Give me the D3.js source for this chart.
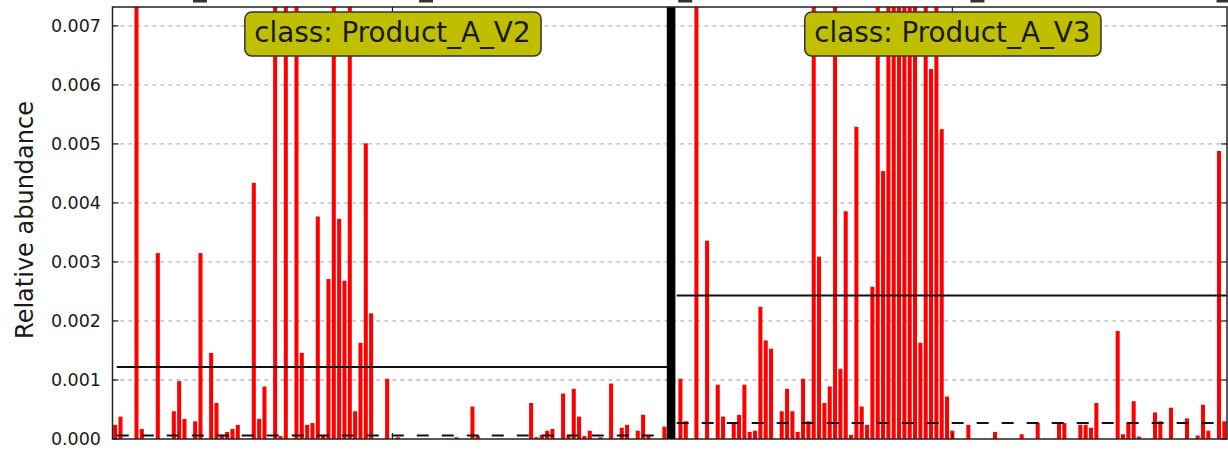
<!DOCTYPE html>
<html>
<head>
<meta charset="utf-8">
<script src="https://cdn.jsdelivr.net/npm/d3@7"></script>
<style>
    body { margin: 0; background: #fff; }
    svg { display: block; font-family: "DejaVu Sans", sans-serif; }
</style>
</head>
<body>
<div id="chart"></div>
<script>
// one bar per sample, relative abundance
const classNames = ["Product_A_V2", "Product_A_V3"]
const abundanceV2 = [
    0.00024, 0.00038, 0, 0, 0.0172, 0.00017, 0, 0, 0.00315, 0,
    0, 0.00047, 0.00098, 0.00034, 0, 0.0003, 0.00315, 0, 0.00146, 0.00061,
    0.00007, 0.00012, 0.00017, 0.00024, 0, 0, 0.00434, 0.00034, 0.00089, 0,
    0.0118, 0.00005, 0.0135, 0, 0.0101, 0.00146, 0.00024, 0.00027, 0.00377, 0.00005,
    0.00271, 0.0143, 0.00373, 0.00268, 0.0112, 0.00047, 0.00163, 0.00501, 0.00213, 0,
    0, 0.00102, 0, 0.00003, 0, 0, 0, 0, 0, 0,
    0, 0, 0, 0, 0.00003, 0, 0, 0.00055, 0.00005, 0,
    0, 0, 0, 0, 0, 0, 0, 0, 0.00061, 0.00003,
    0.00007, 0.00014, 0.00017, 0, 0.00077, 0.00005, 0.00085, 0.00038, 0.00005, 0.00014,
    0, 0.00003, 0, 0.00094, 0, 0.00019, 0.00024, 0, 0.00014, 0.00041,
    0.00007, 0, 0, 0.00021
]
const abundanceV3 = [
    0, 0.00102, 0.0003, 0, 0.0148, 0, 0.00336, 0, 0.00092, 0.00038,
    0, 0.00027, 0.00041, 0.00092, 0.00012, 0.00014, 0.00224, 0.00167, 0.00153, 0,
    0.00047, 0.00085, 0.00047, 0.00012, 0.00102, 0.0003, 0.0186, 0.00309, 0.00061, 0.00089,
    0.0121, 0.00119, 0.00386, 0.00007, 0.00529, 0.00055, 0.00024, 0.00258, 0.0139, 0.00454,
    0.0213, 0.0174, 0.0162, 0.0195, 0.0117, 0.0158, 0.00163, 0.0131, 0.00627, 0.0119,
    0.00525, 0.00072, 0.00014, 0, 0, 0.00024, 0, 0, 0, 0,
    0.00012, 0, 0, 0, 0, 0.00008, 0, 0, 0.00027, 0,
    0, 0, 0.00027, 0.00027, 0, 0, 0.00024, 0.00024, 0.00019, 0.00061,
    0, 0, 0, 0.00183, 0.00008, 0.00027, 0.00064, 0.00004, 0, 0,
    0.00045, 0.0003, 0, 0.00053, 0, 0, 0.00035, 0, 0.00006, 0.00058,
    0.00014, 0, 0.00488, 0.0003
]
const yTicks = [0, 0.001, 0.002, 0.003, 0.004, 0.005, 0.006, 0.007]
const yMax = 0.00732
// bits of the (cropped) labels sticking in at the top edge, in bar slots
const cutLabelSlots = [16.4, 58.8, 107.4, 162.2, 208.35]

var width = 1228
var height = 451
var margin = { top: 7, right: 1, bottom: 12, left: 112.5 }
var innerW = width - margin.left - margin.right
var innerH = height - margin.top - margin.bottom

var classes = [
    { name: classNames[0], values: abundanceV2, offset: 0 },
    { name: classNames[1], values: abundanceV3, offset: abundanceV2.length + 1 }
]
var totalSlots = abundanceV2.length + 1 + abundanceV3.length

var svg = d3.select("#chart")
    .append("svg")
    .attr("width", width)
    .attr("height", height)

var g = svg.append("g")
    .attr("transform", "translate(" + margin.left + "," + margin.top + ")")

var x = d3.scaleLinear().domain([0, totalSlots]).range([0, innerW])
var y = d3.scaleLinear().domain([0, yMax]).range([innerH, 0])
var pitch = x(1) - x(0)

g.append("clipPath").attr("id", "plotClip")
    .append("rect").attr("width", innerW).attr("height", innerH)

// grid
g.selectAll(".grid")
    .data(yTicks.filter(d => d > 0))
    .enter().append("line")
    .attr("x1", 0).attr("x2", innerW)
    .attr("y1", d => y(d)).attr("y2", d => y(d))
    .style("stroke", "#b4b4b4")
    .style("stroke-width", "1.3px")
    .style("stroke-dasharray", "3.5,4.5")

var plot = g.append("g").attr("clip-path", "url(#plotClip)")

classes.forEach(function (c) {
    var bars = c.values.map((v, i) => ({ slot: c.offset + i, v: v })).filter(d => d.v > 0)
    plot.selectAll(null)
        .data(bars)
        .enter().append("rect")
        .attr("x", d => x(d.slot) + 0.65)
        .attr("width", pitch - 1.3)
        .attr("y", d => y(d.v))
        .attr("height", d => y(0) - y(d.v))
        .style("fill", "#ff0000")

    var x1 = x(c.offset + 0.8)
    var x2 = x(c.offset + c.values.length + 0.3)
    // mean
    plot.append("line")
        .attr("x1", x1).attr("x2", x2)
        .attr("y1", y(d3.mean(c.values))).attr("y2", y(d3.mean(c.values)))
        .style("stroke", "#111")
        .style("stroke-width", "2px")
    // median
    plot.append("line")
        .attr("x1", x1).attr("x2", x2)
        .attr("y1", y(d3.median(c.values))).attr("y2", y(d3.median(c.values)))
        .style("stroke", "#111")
        .style("stroke-width", "2px")
        .style("stroke-dasharray", "12,13")
})

// class separator
g.append("line")
    .attr("x1", x(abundanceV2.length + 0.75)).attr("x2", x(abundanceV2.length + 0.75))
    .attr("y1", 0).attr("y2", innerH)
    .style("stroke", "#000")
    .style("stroke-width", "8.6px")

// frame
g.append("rect")
    .attr("width", innerW).attr("height", innerH)
    .style("fill", "none")
    .style("stroke", "#222")
    .style("stroke-width", "1.5px")

// inward ticks on both sides
yTicks.forEach(function (t) {
    g.append("line").attr("x1", 0).attr("x2", 6).attr("y1", y(t)).attr("y2", y(t))
        .style("stroke", "#222").style("stroke-width", "1.2px")
    g.append("line").attr("x1", innerW - 6).attr("x2", innerW).attr("y1", y(t)).attr("y2", y(t))
        .style("stroke", "#222").style("stroke-width", "1.2px")
})
classes.forEach(function (c) {
    var cx = x(c.offset + c.values.length / 2 + 0.5)
    g.append("line").attr("x1", cx).attr("x2", cx).attr("y1", 0).attr("y2", 6)
        .style("stroke", "#222").style("stroke-width", "1.2px")
    g.append("line").attr("x1", cx).attr("x2", cx).attr("y1", innerH - 6).attr("y2", innerH)
        .style("stroke", "#222").style("stroke-width", "1.2px")
})

g.selectAll(".ytick")
    .data(yTicks)
    .enter().append("text")
    .attr("x", -11.5)
    .attr("y", d => y(d))
    .attr("dy", "0.36em")
    .style("text-anchor", "end")
    .style("font-size", "17.5px")
    .style("fill", "#1a1a1a")
    .text(d => d3.format(".3f")(d))

svg.append("text")
    .attr("transform", "translate(33,220) rotate(-90)")
    .style("text-anchor", "middle")
    .style("font-size", "24px")
    .style("fill", "#1a1a1a")
    .text("Relative abundance")

// class labels
classes.forEach(function (c) {
    var cx = margin.left + x(c.offset + c.values.length / 2 + 0.5)
    var lab = svg.append("g")
    var txt = lab.append("text")
        .attr("x", cx)
        .attr("y", 41.7)
        .style("text-anchor", "middle")
        .style("font-size", "27.8px")
        .style("fill", "#1a1a1a")
        .text("class: " + c.name)
    var bb = txt.node().getBBox()
    lab.insert("rect", "text")
        .attr("x", bb.x - 9.5)
        .attr("y", 12)
        .attr("width", bb.width + 20)
        .attr("height", 44)
        .attr("rx", 7)
        .style("fill", "#bfbf00")
        .style("stroke", "#333")
        .style("stroke-width", "1.5px")
})

// cropped label pieces at the top
svg.selectAll(".cut")
    .data(cutLabelSlots)
    .enter().append("rect")
    .attr("x", d => margin.left + x(d) - 7)
    .attr("y", 0)
    .attr("width", 14)
    .attr("height", 2.5)
    .style("fill", "#333")
</script>
</body>
</html>
